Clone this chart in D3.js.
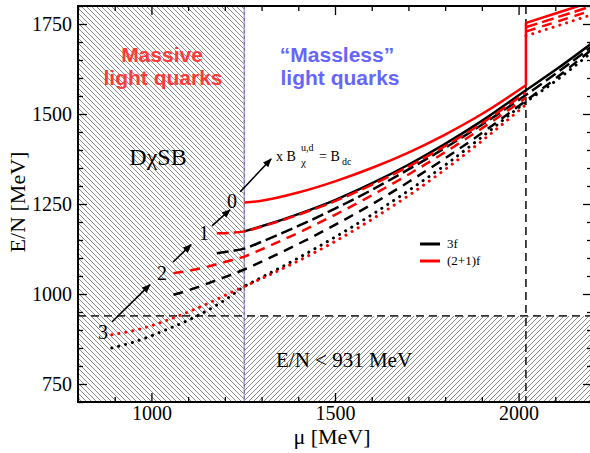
<!DOCTYPE html>
<html><head><meta charset="utf-8">
<script src="https://cdn.jsdelivr.net/npm/d3@7"></script>
<style>body{margin:0;background:#fff}</style>
</head><body><svg id="c" width="590" height="453"></svg>
<script>
// ---- data ----
const xDomain = [800, 2200];
const yDomain = [700, 1800];
const xTicksMajor = [1000, 1500, 2000];
const xTicksMinor = [800, 900, 1100, 1200, 1300, 1400, 1600, 1700, 1800, 1900, 2100, 2200];
const yTicksMajor = [750, 1000, 1250, 1500, 1750];
const yTicksMinor = [700, 800, 850, 900, 950, 1050, 1100, 1150, 1200, 1300, 1350, 1400, 1450, 1550, 1600, 1650, 1700, 1800];
const chiralMu = 1253;     // boundary of DχSB region
const strangeMu = 2020;    // strange-quark onset
const nucleonLine = 939;   // E/N limit line

// 3f (black)
const black0 = [[1253,1174],[1300,1188],[1400,1222],[1500,1261],[1600,1307],[1700,1359],[1800,1417],[1900,1481],[2020,1566],[2100,1622],[2200,1697]];
const black1 = [[1178,1113],[1215,1119],[1253,1126],[1300,1145],[1400,1189],[1500,1237],[1600,1289],[1700,1346],[1800,1406],[1900,1470],[2020,1553],[2100,1611],[2200,1688]];
const black2 = [[1060,998],[1100,1010],[1150,1028],[1200,1047],[1253,1068],[1300,1090],[1400,1139],[1500,1192],[1600,1249],[1700,1311],[1800,1377],[1900,1447],[2020,1537],[2100,1598],[2200,1680]];
const black3 = [[892,850],[950,866],[1000,884],[1050,905],[1100,927],[1150,953],[1200,983],[1253,1021],[1300,1046],[1400,1100],[1500,1158],[1600,1220],[1700,1287],[1800,1358],[1900,1436],[2020,1533],[2100,1591],[2200,1672]];
// (2+1)f (red), low branch and high branch after strange onset
const red0 = [[1253,1254],[1300,1259],[1400,1282],[1500,1313],[1600,1350],[1700,1393],[1800,1443],[1900,1500],[2020,1580]];
const red0High = [[2020,1753],[2100,1779],[2200,1812]];
const red0Jump = [[2020,1580],[2020,1753]];
const red1 = [[1178,1169],[1215,1170],[1253,1174],[1300,1187],[1400,1220],[1500,1258],[1600,1303],[1700,1354],[1800,1411],[1900,1474],[2020,1560]];
const red1High = [[2020,1741],[2100,1767],[2200,1800]];
const red2 = [[1060,1058],[1100,1064],[1150,1075],[1200,1089],[1253,1104],[1300,1124],[1400,1170],[1500,1220],[1600,1274],[1700,1332],[1800,1394],[1900,1460],[2020,1545]];
const red2High = [[2020,1729],[2100,1755],[2200,1788]];
const red3 = [[892,887],[950,898],[1000,912],[1050,930],[1100,950],[1150,972],[1200,996],[1253,1021],[1300,1043],[1400,1092],[1500,1146],[1600,1207],[1700,1273],[1800,1346],[1900,1425],[2020,1526]];
const red3High = [[2020,1717],[2100,1743],[2200,1776]];

// annotation arrows (data coords)
const arrow0 = [[1242,1284],[1326,1375]];
const arrow1 = [[1165,1189],[1214,1234]];
const arrow2 = [[1059,1089],[1108,1137]];
const arrow3 = [[893,923],[996,1026]];

// ---- drawing ----
const svg = d3.select("#c");
const L = 78, R = 592, T = 6, B = 402;
const x = d3.scaleLinear().domain(xDomain).range([L, R]);
const y = d3.scaleLinear().domain(yDomain).range([B, T]);
const serif = "'Liberation Serif','Times New Roman',serif";
const sans = "'Liberation Sans',Arial,sans-serif";

const defs = svg.append("defs");
const p1 = defs.append("pattern").attr("id","hatchA").attr("patternUnits","userSpaceOnUse").attr("width",5).attr("height",5);
p1.append("rect").attr("width",5).attr("height",5).attr("fill","#fff");
p1.append("path").attr("d","M0,0L5,5M-1,4L1,6M4,-1L6,1").attr("stroke","#6e6e6e").attr("stroke-width",0.8);
const p2 = defs.append("pattern").attr("id","hatchB").attr("patternUnits","userSpaceOnUse").attr("width",5).attr("height",5);
p2.append("rect").attr("width",5).attr("height",5).attr("fill","#fff");
p2.append("path").attr("d","M0,5L5,0M-1,1L1,-1M4,6L6,4").attr("stroke","#6e6e6e").attr("stroke-width",0.8);
defs.append("clipPath").attr("id","plot").append("rect").attr("x",L).attr("y",T).attr("width",R-L).attr("height",B-T);
const mk = defs.append("marker").attr("id","arr").attr("viewBox","0 0 10 10").attr("refX",9).attr("refY",5)
  .attr("markerWidth",9).attr("markerHeight",9).attr("markerUnits","userSpaceOnUse").attr("orient","auto");
mk.append("path").attr("d","M0,1L10,5L0,9Z").attr("fill","#000");

// hatched regions
svg.append("rect").attr("x",x(xDomain[0])).attr("y",y(yDomain[1])).attr("width",x(chiralMu)-x(xDomain[0])).attr("height",y(yDomain[0])-y(yDomain[1])).attr("fill","url(#hatchA)");
svg.append("rect").attr("x",x(chiralMu)).attr("y",y(nucleonLine)).attr("width",x(xDomain[1])-x(chiralMu)).attr("height",y(yDomain[0])-y(nucleonLine)).attr("fill","url(#hatchB)");

// boundary lines
svg.append("line").attr("x1",x(chiralMu)).attr("x2",x(chiralMu)).attr("y1",T).attr("y2",B).attr("stroke","#aaa0e6").attr("stroke-width",1.6);
svg.append("line").attr("x1",x(chiralMu)).attr("x2",x(chiralMu)).attr("y1",T).attr("y2",B).attr("stroke","#666").attr("stroke-width",0.8).attr("stroke-dasharray","3,3");
svg.append("line").attr("x1",L).attr("x2",R).attr("y1",y(nucleonLine)).attr("y2",y(nucleonLine)).attr("stroke","#333").attr("stroke-width",1.8).attr("stroke-dasharray","8,5");
svg.append("line").attr("x1",x(strangeMu)).attr("x2",x(strangeMu)).attr("y1",T).attr("y2",B).attr("stroke","#333").attr("stroke-width",1.8).attr("stroke-dasharray","8,5");

// curves
const g = svg.append("g").attr("clip-path","url(#plot)");
const lineSmooth = d3.line().x(d=>x(d[0])).y(d=>y(d[1])).curve(d3.curveMonotoneX);
const lineStraight = d3.line().x(d=>x(d[0])).y(d=>y(d[1]));
const styles = ["", "12,5", "10,7", "0.1,7"];
function draw(data, color, style, straight){
  g.append("path").attr("d",(straight?lineStraight:lineSmooth)(data)).attr("fill","none")
   .attr("stroke",color).attr("stroke-width",style===3?3:2.5)
   .attr("stroke-linecap",style===3?"round":"butt")
   .attr("stroke-dasharray",styles[style]||null);
}
[[black0,0],[black1,1],[black2,2],[black3,3]].forEach(([d,s])=>draw(d,"#000",s));
[[red0,0],[red1,1],[red2,2],[red3,3],[red0High,0],[red1High,1],[red2High,2],[red3High,3]].forEach(([d,s])=>draw(d,"#ff0000",s));
draw(red0Jump,"#ff0000",0,true);

// arrows
[arrow0,arrow1,arrow2,arrow3].forEach(a=>{
  svg.append("line").attr("x1",x(a[0][0])).attr("y1",y(a[0][1])).attr("x2",x(a[1][0])).attr("y2",y(a[1][1]))
    .attr("stroke","#000").attr("stroke-width",1.6).attr("marker-end","url(#arr)");
});

// axes
svg.append("g").attr("transform",`translate(0,${B})`)
  .call(d3.axisBottom(x).tickValues(xTicksMajor).tickSize(-9).tickPadding(4).tickFormat(d3.format("d")));
svg.append("g").attr("transform",`translate(0,${B})`).call(d3.axisBottom(x).tickValues(xTicksMinor).tickSize(-5).tickFormat(""));
svg.append("g").attr("transform",`translate(0,${T})`).call(d3.axisTop(x).tickValues(xTicksMajor).tickSize(-9).tickFormat(""));
svg.append("g").attr("transform",`translate(0,${T})`).call(d3.axisTop(x).tickValues(xTicksMinor).tickSize(-5).tickFormat(""));
svg.append("g").attr("transform",`translate(${L},0)`)
  .call(d3.axisLeft(y).tickValues(yTicksMajor).tickSize(-9).tickPadding(6).tickFormat(d3.format("d")));
svg.append("g").attr("transform",`translate(${L},0)`).call(d3.axisLeft(y).tickValues(yTicksMinor).tickSize(-5).tickFormat(""));
svg.append("g").attr("transform",`translate(${R},0)`).call(d3.axisRight(y).tickValues(yTicksMajor).tickSize(-9).tickFormat(""));
svg.append("g").attr("transform",`translate(${R},0)`).call(d3.axisRight(y).tickValues(yTicksMinor).tickSize(-5).tickFormat(""));
svg.selectAll(".domain").remove();
svg.selectAll(".tick line").attr("stroke","#000").attr("stroke-width",1.3);
svg.selectAll(".tick text").attr("font-family",serif).attr("font-size",20).attr("fill","#000");

svg.append("rect").attr("x",L).attr("y",T).attr("width",R-L).attr("height",B-T).attr("fill","none").attr("stroke","#000").attr("stroke-width",2);

// axis titles
svg.append("text").attr("x",332).attr("y",444).attr("text-anchor","middle").attr("font-family",serif).attr("font-size",22).text("μ [MeV]");
svg.append("text").attr("transform","translate(25,202) rotate(-90)").attr("text-anchor","middle").attr("font-family",serif).attr("font-size",22).text("E/N [MeV]");

// region labels
const t = (xx,yy,txt,size,fam,col,weight,anchor)=>svg.append("text").attr("x",xx).attr("y",yy).attr("font-family",fam).attr("font-size",size)
  .attr("fill",col||"#000").attr("font-weight",weight||"normal").attr("text-anchor",anchor||"start").text(txt);
t(162,62,"Massive",21,sans,"#ff3a3a","bold","middle");
t(163,85,"light quarks",21,sans,"#ff3a3a","bold","middle");
t(337,62,"“Massless”",21,sans,"#6666ff","bold","middle");
t(340,85,"light quarks",21,sans,"#6666ff","bold","middle");
t(158,165,"DχSB",24,serif,"#000","normal","middle");
t(276,367,"E/N < 931 MeV",21,serif);
t(232,208,"0",20,serif,"#000","normal","middle");
t(204,240,"1",20,serif,"#000","normal","middle");
t(162,280,"2",20,serif,"#000","normal","middle");
t(103,339,"3",20,serif,"#000","normal","middle");
// x B_chi^{u,d} = B_dc
t(276,161,"x B",14,serif);
t(301,151,"u,d",10,serif);
t(301,166,"χ",11,serif);
t(319,161,"=  B",14,serif);
t(342,165,"dc",10,serif);

// legend
svg.append("line").attr("x1",420).attr("x2",440).attr("y1",244).attr("y2",244).attr("stroke","#000").attr("stroke-width",3);
svg.append("line").attr("x1",420).attr("x2",440).attr("y1",261).attr("y2",261).attr("stroke","#ff0000").attr("stroke-width",3);
t(447,248,"3f",13,serif);
t(447,265,"(2+1)f",13,serif);
</script></body></html>
